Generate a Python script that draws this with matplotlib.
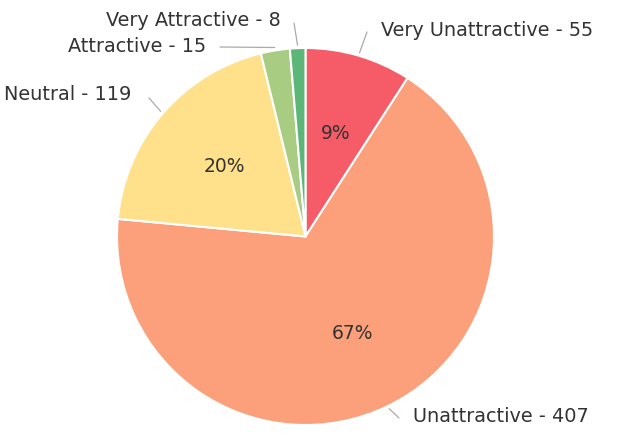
import numpy as np
import matplotlib
matplotlib.use("Agg")
import matplotlib.pyplot as plt

categories = ["Very Unattractive", "Unattractive", "Neutral", "Attractive", "Very Attractive"]
values = [55, 407, 119, 15, 8]
colors = ["#F65C68", "#FBA07A", "#FEE18A", "#A8CD82", "#5BB678"]

# label anchor (line end, text pos) in pixel coords (y down)
line_ends = [(367, 32), (399, 418), (149, 98), (220, 47), (294, 23)]
text_pos = [(381, 30), (413, 416), (131, 95), (206, 46), (281, 20)]
text_ha = ["left", "left", "right", "right", "right"]

W, H = 630, 441
fig = plt.figure(figsize=(W / 100, H / 100), dpi=100)
ax = fig.add_axes([0, 0, 1, 1])
ax.set_xlim(0, W)
ax.set_ylim(0, H)
ax.set_aspect("equal")
ax.axis("off")

cx, cy, R = 305.5, H - 236.5, 188.5
FS = 13.9

def pct(p):
    return f"{p:.0f}%" if p >= 5 else ""

wedges, _, autotexts = ax.pie(values, colors=colors, startangle=90, counterclock=False,
                              center=(cx, cy), radius=R, autopct=pct, pctdistance=0.57,
                              wedgeprops=dict(edgecolor="white", linewidth=1.5),
                              textprops=dict(color="#333333", fontsize=FS - 0.4, family="DejaVu Sans"))
ax.set_xlim(0, W)
ax.set_ylim(0, H)

for w, cat, v, le, tp, ha in zip(wedges, categories, values, line_ends, text_pos, text_ha):
    mid = np.deg2rad((w.theta1 + w.theta2) / 2)
    sx = cx + (R + 3) * np.cos(mid)
    sy = cy + (R + 3) * np.sin(mid)
    ax.plot([sx, le[0]], [sy, H - le[1]], color="#AAAAAA", lw=0.9, solid_capstyle="round")
    ax.text(tp[0], H - tp[1], f"{cat} - {v}", ha=ha, va="center", color="#333333",
            fontsize=FS, family="DejaVu Sans")

fig.savefig("out.png", dpi=100, facecolor="white")
